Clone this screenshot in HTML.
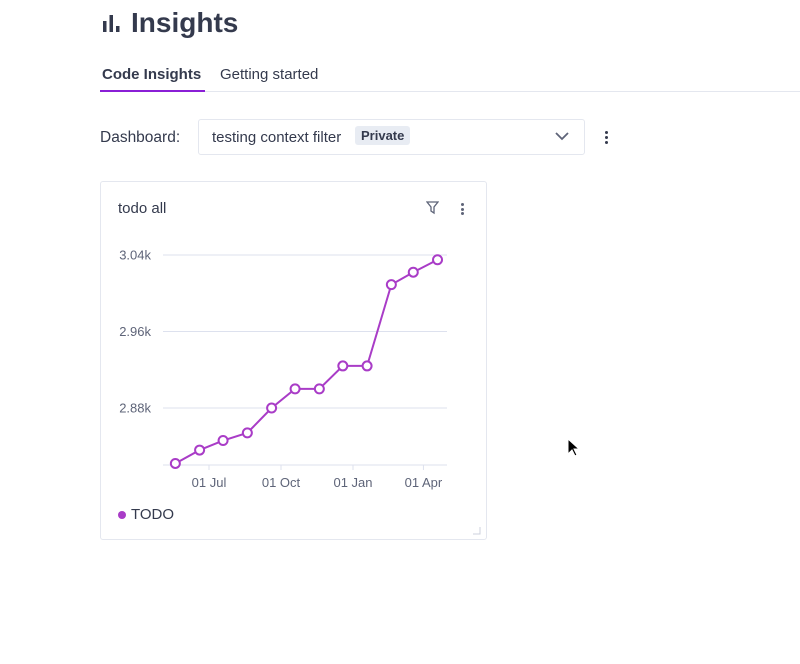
<!DOCTYPE html>
<html><head><meta charset="utf-8">
<style>
body{margin:0;width:800px;height:664px;background:#fff;font-family:"Liberation Sans",sans-serif;color:#343a4d;position:relative;overflow:hidden}
.abs{position:absolute}
</style></head><body>
<div class="abs" style="left:102px;top:6px;height:34px;display:flex;align-items:center">
 <svg width="20" height="20" viewBox="0 0 20 20"><rect x="1" y="8" width="3.5" height="11" fill="#343a4d"/><rect x="7.5" y="2" width="3.5" height="17" fill="#343a4d"/><rect x="14" y="13" width="3.5" height="6" fill="#343a4d"/></svg>
 <span style="font-size:28px;font-weight:bold;margin-left:9px">Insights</span>
</div>
<div class="abs" style="left:102px;top:66px;font-size:15px;font-weight:bold">Code Insights</div>
<div class="abs" style="left:220px;top:66px;font-size:15px">Getting started</div>
<div class="abs" style="left:100px;top:91px;width:700px;height:1px;background:#e4e7ef"></div>
<div class="abs" style="left:100px;top:90px;width:105px;height:2px;background:#8a1fd6"></div>
<div class="abs" style="left:100px;top:129px;font-size:15.5px">Dashboard:</div>
<div class="abs" style="left:198px;top:119px;width:387px;height:36px;border:1px solid #e4e7ef;border-radius:3px;box-sizing:border-box">
 <span style="position:absolute;left:13px;top:9px;font-size:15px">testing context filter</span>
 <span style="position:absolute;left:156px;top:6px;background:#e8ecf3;border-radius:3px;font-size:13px;font-weight:bold;padding:2px 6px">Private</span>
 <svg class="abs" style="left:356px;top:12px" width="14" height="9" viewBox="0 0 14 9"><path d="M1 1l6 6 6-6" fill="none" stroke="#5e6478" stroke-width="1.8"/></svg>
</div>
<div class="abs" style="left:605px;top:131px;width:4px">
 <div style="width:3px;height:3px;border-radius:2px;background:#343a4d;margin-bottom:2px"></div><div style="width:3px;height:3px;border-radius:2px;background:#343a4d;margin-bottom:2px"></div><div style="width:3px;height:3px;border-radius:2px;background:#343a4d"></div>
</div>
<div class="abs" style="left:100px;top:181px;width:387px;height:359px;border:1px solid #e4e7ef;border-radius:3px;box-sizing:border-box"></div>
<div class="abs" style="left:118px;top:200px;font-size:15px">todo all</div>
<svg class="abs" style="left:426px;top:201px" width="13" height="14" viewBox="0 0 13 14"><path d="M1 1h11l-4 5v6l-3-2V6z" fill="none" stroke="#5e6478" stroke-width="1.3"/></svg>
<div class="abs" style="left:461px;top:203px">
 <div style="width:3px;height:3px;border-radius:2px;background:#5e6478;margin-bottom:1.5px"></div><div style="width:3px;height:3px;border-radius:2px;background:#5e6478;margin-bottom:1.5px"></div><div style="width:3px;height:3px;border-radius:2px;background:#5e6478"></div>
</div>
<svg id="chart" class="abs" style="left:0;top:0" width="800" height="664"></svg>
<div class="abs" style="left:118px;top:506px;font-size:15px;display:flex;align-items:center">
 <span style="width:8px;height:8px;border-radius:4px;background:#a93cc7;display:inline-block;margin-right:5px"></span>TODO</div>
<svg class="abs" style="left:472px;top:526px" width="9" height="9"><path d="M8 1v7H1" fill="none" stroke="#ccd1dc" stroke-width="1"/></svg>
<svg class="abs" style="left:567px;top:438px" width="12" height="20" viewBox="0 0 12 20"><path d="M1 1v15l4-4 3 6 2-1-3-6h5z" fill="#000" stroke="#fff" stroke-width="1"/></svg>
<script>
const dates=["2021-05-19","2021-06-19","2021-07-19","2021-08-19","2021-09-19","2021-10-19","2021-11-19","2021-12-19","2022-01-19","2022-02-19","2022-03-19","2022-04-19"];
const values=[2822,2836,2846,2854,2880,2900,2900,2924,2924,3009,3022,3035];
const yTicks=[2880,2960,3040];
const yTickLabels=["2.88k","2.96k","3.04k"];
const xTicks=["2021-07-01","2021-10-01","2022-01-01","2022-04-01"];
const xTickLabels=["01 Jul","01 Oct","01 Jan","01 Apr"];
const NS="http://www.w3.org/2000/svg";
const svg=document.getElementById('chart');
const day=86400000, t0=Date.parse("2021-07-01");
function x(d){return 209+(Date.parse(d)-t0)/day*(72/92);}
function y(v){return 408-(v-2880)*(153/160);}
function mk(tag,a){const e=document.createElementNS(NS,tag);for(const k in a)e.setAttribute(k,a[k]);svg.appendChild(e);return e;}
yTicks.forEach((v,i)=>{
 const g=mk('line',{x1:163,x2:447,y1:y(v),y2:y(v),stroke:'#dde1ee','stroke-width':1});
 
 
 const t=mk('text',{x:151,y:y(v)+4.5,'text-anchor':'end','font-size':13,fill:'#5e6478','font-family':'Liberation Sans, sans-serif'});
 t.textContent=yTickLabels[i];
 
 
});
const ax=mk('line',{x1:163,x2:447,y1:465,y2:465,stroke:'#dde1ee','stroke-width':1});


xTicks.forEach((d,i)=>{
 const tk=mk('line',{x1:x(d),x2:x(d),y1:465,y2:470,stroke:'#dde1ee'});
 
 
 const t=mk('text',{x:x(d),y:487,'text-anchor':'middle','font-size':13,fill:'#5e6478','font-family':'Liberation Sans, sans-serif'});
 t.textContent=xTickLabels[i];
 
 
});
const pl=mk('polyline',{points:dates.map((d,i)=>x(d)+','+y(values[i])).join(' '),fill:'none',stroke:'#a93cc7','stroke-width':2});


dates.forEach((d,i)=>{
 const c=mk('circle',{cx:x(d),cy:y(values[i]),r:4.5,fill:'#fff',stroke:'#a93cc7','stroke-width':2});
 
 
});
</script>
</body></html>
